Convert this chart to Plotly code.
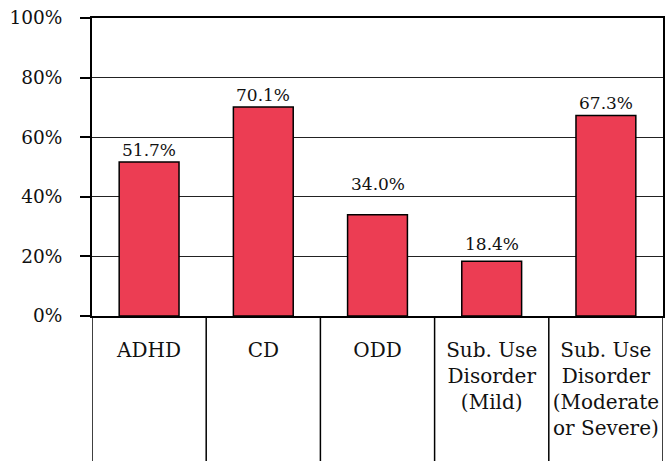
import plotly.graph_objects as go

categories = ["ADHD", "CD", "ODD", "Sub. Use<br>Disorder<br>(Mild)",
              "Sub. Use<br>Disorder<br>(Moderate<br>or Severe)"]
values = [51.7, 70.1, 34.0, 18.4, 67.3]
value_labels = ["51.7%", "70.1%", "34.0%", "18.4%", "67.3%"]
y_ticks = [0, 20, 40, 60, 80, 100]
y_tick_labels = ["0%", "20%", "40%", "60%", "80%", "100%"]

# per-label vertical nudges (px) as placed in the original
label_nudges = [0, 0, 19, 5, 0]

FONT = "DejaVu Serif"
x_idx = list(range(len(categories)))

fig = go.Figure()
fig.add_trace(go.Bar(
    x=x_idx, y=values,
    marker=dict(color="#EC3D53", line=dict(color="black", width=1.5)),
    width=0.524,
    hoverinfo="skip",
))

for i, (v, t, n) in enumerate(zip(values, value_labels, label_nudges)):
    fig.add_annotation(x=i, y=v, text=t, showarrow=False, yanchor="bottom",
                       yshift=n, font=dict(family=FONT, size=17, color="#111"))

# column separators in the category area
for i in range(len(categories) + 1):
    fig.add_shape(type="line", xref="x", yref="paper", x0=i - 0.5, x1=i - 0.5,
                  y0=0, y1=-0.6, line=dict(color="black", width=1.5))

fig.update_layout(
    width=666, height=461,
    margin=dict(l=92, r=1, t=18, b=145),
    paper_bgcolor="white", plot_bgcolor="white",
    showlegend=False,
    font=dict(family=FONT, color="#111"),
    xaxis=dict(
        range=[-0.5, len(categories) - 0.5],
        tickmode="array", tickvals=x_idx, ticktext=categories,
        showline=True, linecolor="black", linewidth=2, mirror=True,
        ticks="", showgrid=False, zeroline=False,
        tickfont=dict(family=FONT, size=20, color="#111"),
        ticklabelstandoff=15,
    ),
    yaxis=dict(
        range=[0, 100],
        tickmode="array", tickvals=y_ticks, ticktext=y_tick_labels,
        showline=True, linecolor="black", linewidth=2, mirror=True,
        ticks="outside", ticklen=10, tickwidth=1.5, tickcolor="black",
        showgrid=True, gridcolor="#222", gridwidth=1.3, zeroline=False,
        tickfont=dict(family=FONT, size=18.5, color="#111"),
        ticklabelstandoff=14,
    ),
)

fig.write_html(
    "out.html",
    config={"displayModeBar": False},
    post_script="document.body.style.margin='0';document.body.style.overflow='hidden';",
)
